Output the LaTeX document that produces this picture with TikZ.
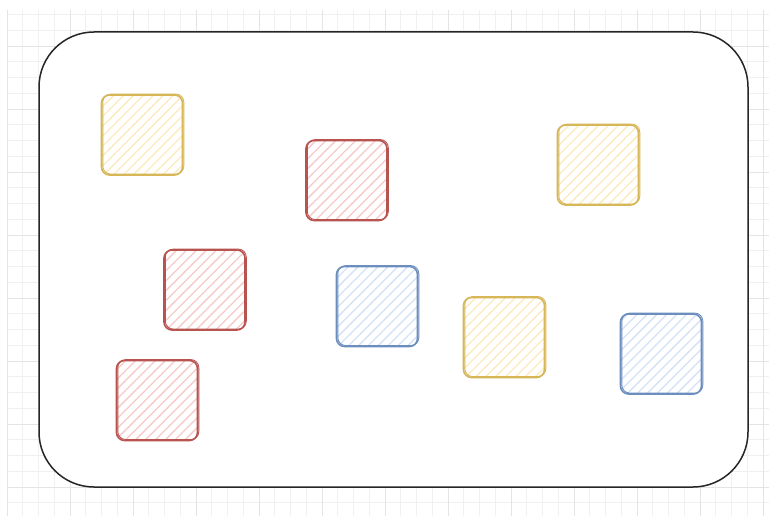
\documentclass[tikz,border=0pt]{standalone}
\usepackage{xcolor}
\definecolor{yline}{HTML}{D6B656}
\definecolor{yfill}{HTML}{FCEBBE}
\definecolor{rline}{HTML}{B85450}
\definecolor{rfill}{HTML}{F6CAC8}
\definecolor{bline}{HTML}{6C8EBF}
\definecolor{bfill}{HTML}{D3E2F7}
\definecolor{gridminor}{HTML}{F0F0F0}
\definecolor{gridmajor}{HTML}{E4E4E4}
\usepackage{tikz}
\usetikzlibrary{positioning,patterns.meta}

\begin{document}
\begin{tikzpicture}[x=1pt, y=-1pt]
\tikzset{
  blob/.style={minimum width=81pt, minimum height=80pt, rounded corners=8pt, line width=1.6pt,
    pattern={Lines[angle=45, distance=7pt, line width=1.3pt]},
    postaction={draw, line width=0.9pt, transform canvas={shift={(1.3pt,0.9pt)}}}},
  yblob/.style={blob, draw=yline, pattern color=yfill},
  rblob/.style={blob, draw=rline, pattern color=rfill},
  bblob/.style={blob, draw=bline, pattern color=bfill}
}
\useasboundingbox (0,0) rectangle (769,516);
% grid
\begin{scope}
\clip (7,10) rectangle (769,516);
\foreach \k in {0,...,48} \draw[gridminor, line width=0.8pt] ({7+15.75*\k},10) -- ({7+15.75*\k},516);
\foreach \k in {0,...,31} \draw[gridminor, line width=0.8pt] (7,{14.5+15.75*\k}) -- (769,{14.5+15.75*\k});
\foreach \k in {0,...,12} \draw[gridmajor, line width=0.8pt] ({7+63*\k},10) -- ({7+63*\k},516);
\foreach \k in {0,...,7} \draw[gridmajor, line width=0.8pt] (7,{46+63*\k}) -- (769,{46+63*\k});
\end{scope}
% frame
\node[draw=black!85, fill=white, line width=1.5pt, rounded corners=55pt,
  minimum width=709pt, minimum height=455pt] (frame) at (393.5,259.5) {};
% boxes
\node[yblob] (y1) at (142,135)   {};
\node[rblob] (r1) at (346.5,180.5) {};
\node[yblob] (y2) at (598,165)   {};
\node[rblob] (r2) at (204.5,290) {};
\node[bblob] (b1) at (377,306.5) {};
\node[yblob] (y3) at (504,337.5) {};
\node[bblob] (b2) at (661,354)   {};
\node[rblob] (r3) at (157,400.5) {};
\end{tikzpicture}
\end{document}
